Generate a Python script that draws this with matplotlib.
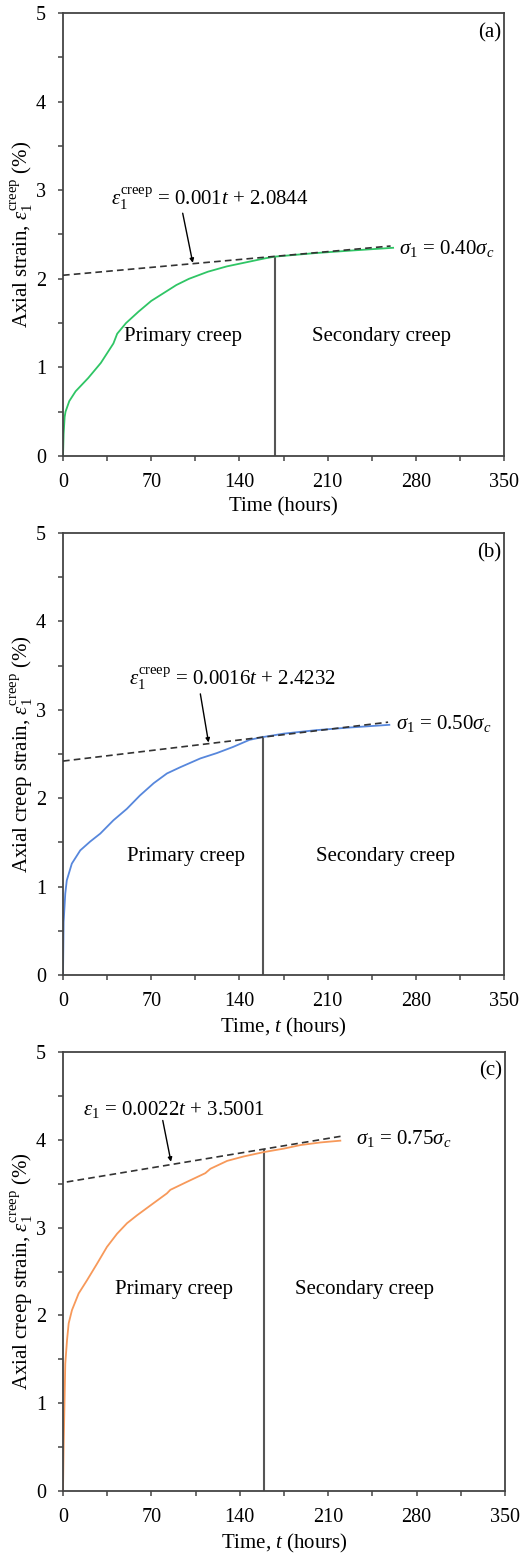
import matplotlib
matplotlib.use("Agg")
import matplotlib.pyplot as plt
from matplotlib.ticker import MultipleLocator

plt.rcParams['font.family'] = ['Liberation Serif', 'DejaVu Serif']
plt.rcParams['mathtext.fontset'] = 'custom'
plt.rcParams['mathtext.rm'] = 'Liberation Serif'
plt.rcParams['mathtext.it'] = 'Liberation Serif:italic'
plt.rcParams['mathtext.bf'] = 'Liberation Serif:bold'

# ---- data ----
t_a = [0, 0.5, 1.3, 2, 5, 10, 20, 30, 40, 43, 50, 60, 70, 80, 90, 100, 115, 130, 140, 150, 160, 168, 200, 230, 262]
e_a = [0, 0.25, 0.44, 0.5, 0.62, 0.73, 0.88, 1.05, 1.27, 1.38, 1.5, 1.63, 1.75, 1.84, 1.93, 2.0, 2.08, 2.14, 2.17, 2.2, 2.23, 2.25, 2.29, 2.32, 2.35]
fit_a_t = [0, 260]
fit_a_e = [2.04, 2.37]
split_a = 168
split_a_e = 2.245

t_b = [0, 0.5, 1.8, 3, 7, 13.7, 21.6, 29.6, 40, 50.7, 61, 72, 82.5, 93, 109, 122, 135, 148, 158, 175, 201, 228, 259]
e_b = [0, 0.6, 0.92, 1.07, 1.26, 1.41, 1.51, 1.60, 1.75, 1.88, 2.03, 2.17, 2.28, 2.35, 2.45, 2.51, 2.58, 2.66, 2.69, 2.73, 2.77, 2.80, 2.83]
fit_b_t = [0, 258]
fit_b_e = [2.42, 2.86]
split_b = 158.4
split_b_e = 2.69

t_c = [0, 0.5, 1.8, 3.2, 4.5, 7.1, 12.4, 19, 27, 34.8, 42.8, 50.7, 58.6, 69, 82.3, 85, 98, 112.7, 116.7, 130, 143, 159, 175, 188, 204, 219.6]
e_c = [0, 0.5, 1.45, 1.72, 1.91, 2.06, 2.25, 2.40, 2.59, 2.78, 2.93, 3.05, 3.14, 3.25, 3.39, 3.43, 3.52, 3.62, 3.67, 3.76, 3.81, 3.86, 3.90, 3.94, 3.97, 3.99]
fit_c_t = [3, 220]
fit_c_e = [3.52, 4.04]
split_c = 159.4
split_c_e = 3.88

x_ticks = [0, 70, 140, 210, 280, 350]
y_ticks = [0, 1, 2, 3, 4, 5]

colors = ['#2fc565', '#5787dc', '#f7995a']
panel_tags = ['(a)', '(b)', '(c)']
eq_texts = [r'$\varepsilon_1^{\mathrm{creep}}$ = 0.001$t$ + 2.0844',
            r'$\varepsilon_1^{\mathrm{creep}}$ = 0.0016$t$ + 2.4232',
            r'$\varepsilon_1$ = 0.0022$t$ + 3.5001']
sigma_texts = [r'$\sigma_1$ = 0.40$\sigma_c$',
               r'$\sigma_1$ = 0.50$\sigma_c$',
               r'$\sigma_1$ = 0.75$\sigma_c$']
ylabels = [r'Axial strain, $\varepsilon_1^{\mathrm{creep}}$ (%)',
           r'Axial creep strain, $\varepsilon_1^{\mathrm{creep}}$ (%)',
           r'Axial creep strain, $\varepsilon_1^{\mathrm{creep}}$ (%)']
xlabels = ['Time (hours)', r'Time, $t$ (hours)', r'Time, $t$ (hours)']

# annotation layout
eq_pos = [(38, 2.91), (52, 3.35), (16, 4.35)]
arrow_from = [(95, 2.74), (109, 3.18), (79, 4.22)]
arrow_to = [(103, 2.18), (115.5, 2.63), (85.5, 3.75)]
sigma_pos = [(267, 2.34), (264, 2.84), (232, 4.01)]
label_y = [1.35, 1.34, 2.29]
prim_x = [95, 98, 88]
sec_x = [253, 256, 239]

W, H = 524, 1556
fig = plt.figure(figsize=(W / 100, H / 100), dpi=100)
boxes = [(63, 13, 504, 456), (63, 533, 504, 975), (63, 1052, 505, 1491)]

series = [(t_a, e_a, fit_a_t, fit_a_e, split_a, split_a_e),
          (t_b, e_b, fit_b_t, fit_b_e, split_b, split_b_e),
          (t_c, e_c, fit_c_t, fit_c_e, split_c, split_c_e)]

fs = 14.5
fs_txt = 15
spine_c = '#444444'
for i, (x0, y0, x1, y1) in enumerate(boxes):
    ax = fig.add_axes([x0 / W, 1 - y1 / H, (x1 - x0) / W, (y1 - y0) / H])
    t, e, ft, fe, sp, spe = series[i]
    ax.plot(ft, fe, color='#333333', lw=1.2, ls=(0, (4, 2.5)), zorder=3)
    ax.plot(t, e, color=colors[i], lw=1.3, zorder=2)
    ax.plot([sp, sp], [0, spe], color='#555555', lw=1.5, zorder=1)
    ax.set_xlim(0, 350)
    ax.set_ylim(0, 5)
    ax.set_xticks(x_ticks)
    ax.set_yticks(y_ticks)
    ax.xaxis.set_minor_locator(MultipleLocator(35))
    ax.yaxis.set_minor_locator(MultipleLocator(0.5))
    ax.tick_params(which='both', direction='out', length=3.6, width=1.1, color=spine_c,
                   labelsize=fs, pad=8.5)
    for s in ax.spines.values():
        s.set_color(spine_c)
        s.set_linewidth(1.3)
    ax.set_xlabel(xlabels[i], fontsize=fs_txt, labelpad=4)
    ax.set_ylabel(ylabels[i], fontsize=fs_txt, labelpad=1)
    ax.text(eq_pos[i][0], eq_pos[i][1], eq_texts[i], fontsize=fs_txt, va='center', ha='left')
    ax.annotate('', xy=arrow_to[i], xytext=arrow_from[i],
                arrowprops=dict(arrowstyle='-|>', color='black', lw=1.0,
                                mutation_scale=6, shrinkA=0, shrinkB=0))
    ax.text(sigma_pos[i][0], sigma_pos[i][1], sigma_texts[i], fontsize=fs_txt, va='center', ha='left')
    ax.text(prim_x[i], label_y[i], 'Primary creep', fontsize=fs_txt, ha='center', va='center')
    ax.text(sec_x[i], label_y[i], 'Secondary creep', fontsize=fs_txt, ha='center', va='center')
    ax.text(348, 4.78, panel_tags[i], fontsize=fs_txt, ha='right', va='center')

fig.savefig('out.png', dpi=100)
